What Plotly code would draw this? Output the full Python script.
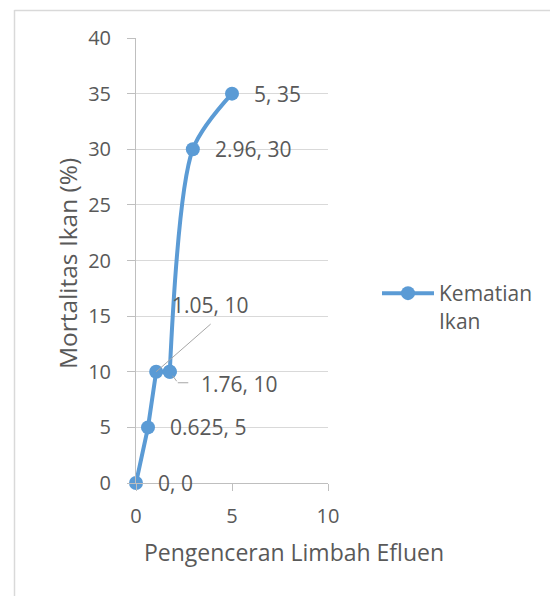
import plotly.graph_objects as go

# Data
x_vals = [0, 0.625, 1.05, 1.76, 2.96, 5]
y_vals = [0, 5, 10, 10, 30, 35]
series_name = "Kematian<br>Ikan"
x_title = "Pengenceran Limbah Efluen"
y_title = "Mortalitas Ikan (%)"
x_ticks = [0, 5, 10]
y_ticks = [0, 5, 10, 15, 20, 25, 30, 35, 40]

W, H = 550, 596
L, R, T, B = 136, 222, 38, 113
pw, ph = W - L - R, H - T - B

def px_x(px):
    return (px - L) / pw

def px_y(py):
    return (H - B - py) / ph

FONT = "Open Sans"
TXT = "#595959"
BLUE = "#5B9BD5"
LEAD = "#A6A6A6"

# the smoothed series is drawn in two parts so the straight lower run
# and the curved upper run keep the look of the original chart
split = 3
fig = go.Figure()
fig.add_trace(go.Scatter(
    x=x_vals[:split + 1], y=y_vals[:split + 1], name=series_name,
    mode="lines+markers", showlegend=False,
    line=dict(color=BLUE, width=4, shape="linear"),
    marker=dict(color=BLUE, size=14), cliponaxis=False,
))
fig.add_trace(go.Scatter(
    x=x_vals[split:], y=y_vals[split:], name=series_name,
    mode="lines+markers",
    line=dict(color=BLUE, width=4, shape="spline", smoothing=0.8),
    marker=dict(color=BLUE, size=14), cliponaxis=False,
))

def fmt(v):
    return "%g" % v

lab_font = dict(family=FONT, size=21, color=TXT)
ann = []
for xv, yv in zip(x_vals, y_vals):
    label = f"{fmt(xv)}, {fmt(yv)}"
    if (xv, yv) == (1.05, 10):
        ann.append(dict(x=xv, y=yv, text=label, showarrow=False, xanchor="center",
                        yanchor="middle", xshift=54, yshift=67, font=lab_font))
        ann.append(dict(x=xv, y=yv, text="", showarrow=True, arrowhead=0,
                        arrowwidth=1, arrowcolor=LEAD, ax=56, ay=-49,
                        font=dict(size=1)))
    elif (xv, yv) == (1.76, 10):
        ann.append(dict(x=xv, y=yv, text=label, showarrow=False, xanchor="left",
                        yanchor="middle", xshift=29, yshift=-12, font=lab_font))
        ann.append(dict(x=xv, y=yv, text="", showarrow=True, arrowhead=0,
                        arrowwidth=1, arrowcolor=LEAD, ax=8, ay=11, standoff=5,
                        font=dict(size=1)))
        ann.append(dict(x=xv, y=yv, text="", showarrow=True, arrowhead=0,
                        arrowwidth=1, arrowcolor=LEAD, ax=12, ay=0,
                        xshift=8, yshift=-11, font=dict(size=1)))
    else:
        ann.append(dict(x=xv, y=yv, text=label, showarrow=False, xanchor="left",
                        yanchor="middle", xshift=20, font=lab_font))

ann.append(dict(xref="paper", yref="paper", x=px_x(294), y=px_y(552), text=x_title,
                showarrow=False, xanchor="center", yanchor="middle",
                font=dict(family=FONT, size=23, color=TXT)))
ann.append(dict(xref="paper", yref="paper", x=px_x(67), y=px_y(264), text=y_title,
                showarrow=False, xanchor="center", yanchor="middle", textangle=-90,
                font=dict(family=FONT, size=24.5, color=TXT)))

fig.update_layout(
    width=W, height=H,
    margin=dict(l=L, r=R, t=T, b=B),
    paper_bgcolor="white", plot_bgcolor="white",
    font=dict(family=FONT, size=20, color=TXT),
    annotations=ann,
    showlegend=True,
    legend=dict(x=px_x(377), y=px_y(273), xanchor="left", yanchor="top",
                font=dict(family=FONT, size=21, color=TXT), valign="top",
                bgcolor="rgba(0,0,0,0)", itemwidth=52),
    shapes=[
        dict(type="line", xref="paper", yref="paper", x0=px_x(14.5), x1=px_x(14.5),
             y0=px_y(10), y1=px_y(620), line=dict(color="#D9D9D9", width=1.5)),
        dict(type="line", xref="paper", yref="paper", x0=px_x(14.5), x1=px_x(600),
             y0=px_y(10.5), y1=px_y(10.5), line=dict(color="#D9D9D9", width=1.5)),
    ],
)
fig.update_xaxes(range=[0, 10], tickvals=x_ticks, showgrid=False, zeroline=False,
                 showline=True, linecolor="#BFBFBF", linewidth=1,
                 ticks="outside", ticklen=7, tickcolor="#BFBFBF",
                 tickfont=dict(family=FONT, size=20, color=TXT), ticklabelstandoff=8)
fig.update_yaxes(range=[0, 40], tickvals=y_ticks, showgrid=True, gridcolor="#D9D9D9",
                 zeroline=False, showline=True, linecolor="#BFBFBF", linewidth=1,
                 ticks="outside", ticklen=8, tickcolor="#BFBFBF",
                 tickfont=dict(family=FONT, size=20, color=TXT), ticklabelstandoff=12)

fig.write_html("out.html")
